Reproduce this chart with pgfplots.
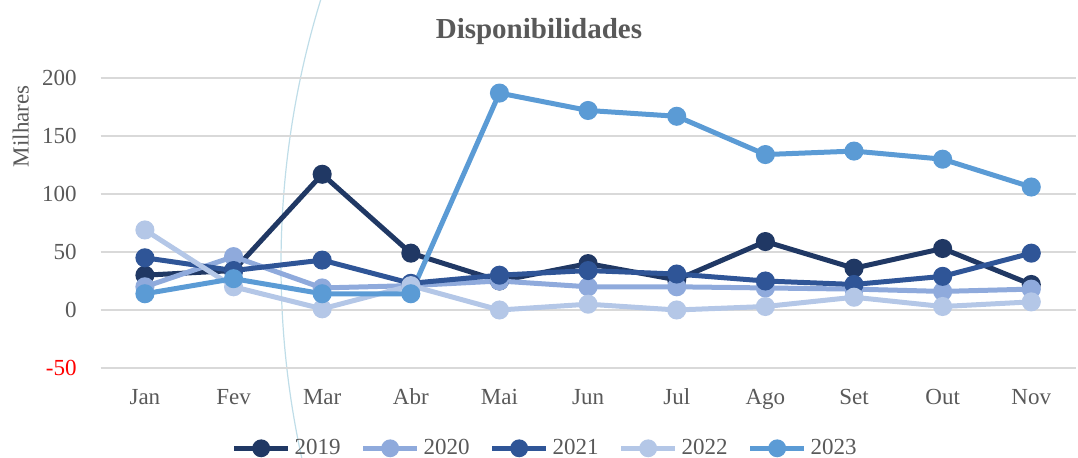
\documentclass[border=0pt]{standalone}
\usepackage{fontspec}
\setmainfont{Liberation Serif}
\usepackage{pgfplots}
\pgfplotsset{compat=1.18}
\definecolor{cA}{HTML}{203864}
\definecolor{cB}{HTML}{8FAADC}
\definecolor{cC}{HTML}{2F5597}
\definecolor{cD}{HTML}{B4C7E7}
\definecolor{cE}{HTML}{5B9BD5}
\definecolor{txt}{HTML}{595959}
\definecolor{grd}{HTML}{D9D9D9}
\definecolor{arc}{HTML}{BFDDE8}
\begin{document}
\begin{tikzpicture}
\path[use as bounding box] (0,0) rectangle (539pt,229pt);
\begin{scope}
\clip (0,0) rectangle (539pt,229pt);
\draw[arc, line width=0.6pt] (590.5pt,96.5pt) circle (450pt);
\end{scope}
\node[txt, font=\fontsize{14.5}{16}\selectfont\bfseries] at (269.5pt,213pt) {Disponibilidades};
\begin{axis}[
  at={(50.3pt,45pt)}, anchor=south west,
  scale only axis, width=487.5pt, height=145pt,
  xmin=-0.5, xmax=10.5, ymin=-50, ymax=200,
  xtick={0,...,10},
  xticklabels={Jan,Fev,Mar,Abr,Mai,Jun,Jul,Ago,Set,Out,Nov},
  ytick={-50,0,50,100,150,200},
  yticklabels={\textcolor{red}{-50},0,50,100,150,200},
  axis line style={draw=none},
  major tick length=0pt,
  ymajorgrids, grid style={grd, line width=0.8pt},
  tick label style={txt, font=\fontsize{11.5}{13}\selectfont},
  /pgf/number format/assume math mode=true,
  xticklabel style={anchor=base, yshift=-18.5pt},
  yticklabel style={xshift=-8.5pt},
  ylabel={Milhares},
  ylabel style={txt, font=\fontsize{11.5}{13}\selectfont, at={(axis description cs:-0.082,0.834)}, anchor=center},
  legend style={at={(0.457,-0.277)}, anchor=center, draw=none, fill=none,
    legend columns=5, font=\fontsize{11.5}{13}\selectfont, text=txt,
    /tikz/every even column/.append style={column sep=8pt}},
  legend image code/.code={
    \draw[#1, mark=none] (0pt,0pt) -- (27pt,0pt);
    \fill[#1] (13.5pt,0pt) circle (3.2pt);},
  every axis plot/.append style={line width=2.5pt, mark=*, mark size=3.5pt},
]
\addplot[cA] coordinates {(0,30) (1,34) (2,117) (3,49) (4,25) (5,40) (6,26) (7,59) (8,36) (9,53) (10,22)};
\addlegendentry{2019}
\addplot[cB] coordinates {(0,20) (1,46) (2,19) (3,21) (4,25) (5,20) (6,20) (7,19) (8,18) (9,16) (10,18)};
\addlegendentry{2020}
\addplot[cC] coordinates {(0,45) (1,34) (2,43) (3,23) (4,30) (5,34) (6,31) (7,25) (8,22) (9,29) (10,49)};
\addlegendentry{2021}
\addplot[cD] coordinates {(0,69) (1,20) (2,1) (3,21) (4,0) (5,5) (6,0) (7,3) (8,11) (9,3) (10,7)};
\addlegendentry{2022}
\addplot[cE] coordinates {(0,14) (1,27) (2,14) (3,14) (4,187) (5,172) (6,167) (7,134) (8,137) (9,130) (10,106)};
\addlegendentry{2023}
\end{axis}
\end{tikzpicture}
\end{document}
